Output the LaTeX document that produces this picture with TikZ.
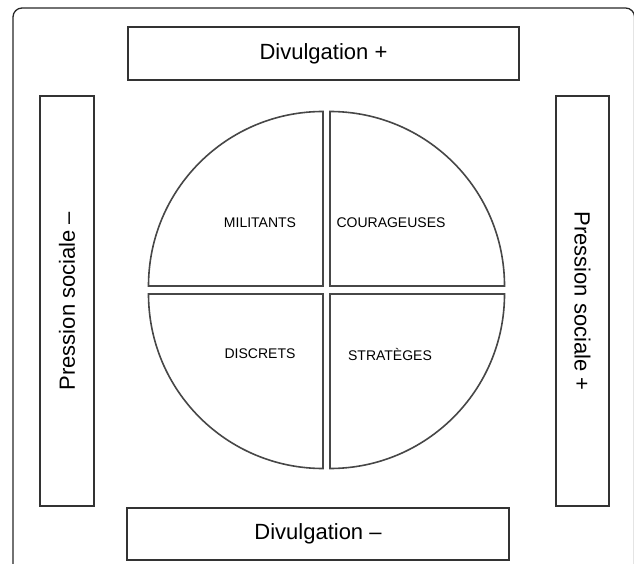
\documentclass[tikz,border=0pt]{standalone}
\usepackage{fontspec}
\setmainfont{Liberation Sans}
\begin{document}
\begin{tikzpicture}[x=1pt,y=1pt,
  frame/.style={draw=black!85,line width=1.3pt,rounded corners=9pt},
  labelbox/.style={draw=black!80,line width=1.6pt,fill=white,inner sep=0pt,
    font=\fontsize{22}{26}\selectfont},
  quarter/.style={draw=black!72,line width=1.6pt,fill=white},
  qlabel/.style={inner sep=0pt,font=\fontsize{14}{16}\selectfont}]
  \useasboundingbox (0,0) rectangle (634,563);
  \clip (0,0) rectangle (634,563);
  % outer frame, running off the right and bottom edges
  \draw[frame] (13,-30) rectangle (634.6,555);
  % four quarter discs
  \draw[quarter] (323,277) -- (323,451.5) arc[start angle=90,end angle=180,radius=174.5] -- cycle;
  \draw[quarter] (330,277) -- (330,451.5) arc[start angle=90,end angle=0,radius=174.5] -- cycle;
  \draw[quarter] (323,269) -- (323,94.5) arc[start angle=270,end angle=180,radius=174.5] -- cycle;
  \draw[quarter] (330,269) -- (330,94.5) arc[start angle=-90,end angle=0,radius=174.5] -- cycle;
  \node[qlabel] (mil) at (260,340) {MILITANTS};
  \node[qlabel] (cou) at (391,340) {COURAGEUSES};
  \node[qlabel] (dis) at (260,209) {DISCRETS};
  \node[qlabel] (str) at (390,209) {STRATÈGES};
  % axis boxes
  \node[labelbox,minimum width=391pt,minimum height=53pt] (dplus) at (323.5,509.5) {Divulgation +};
  \node[labelbox,minimum width=382pt,minimum height=52pt] (dminus) at (318,29) {Divulgation –};
  \node[labelbox,rotate=90,minimum width=410pt,minimum height=54pt] (pminus) at (67,262) {Pression sociale –};
  \node[labelbox,rotate=-90,minimum width=410pt,minimum height=53pt] (pplus) at (582.5,262) {Pression sociale +};
\end{tikzpicture}
\end{document}
